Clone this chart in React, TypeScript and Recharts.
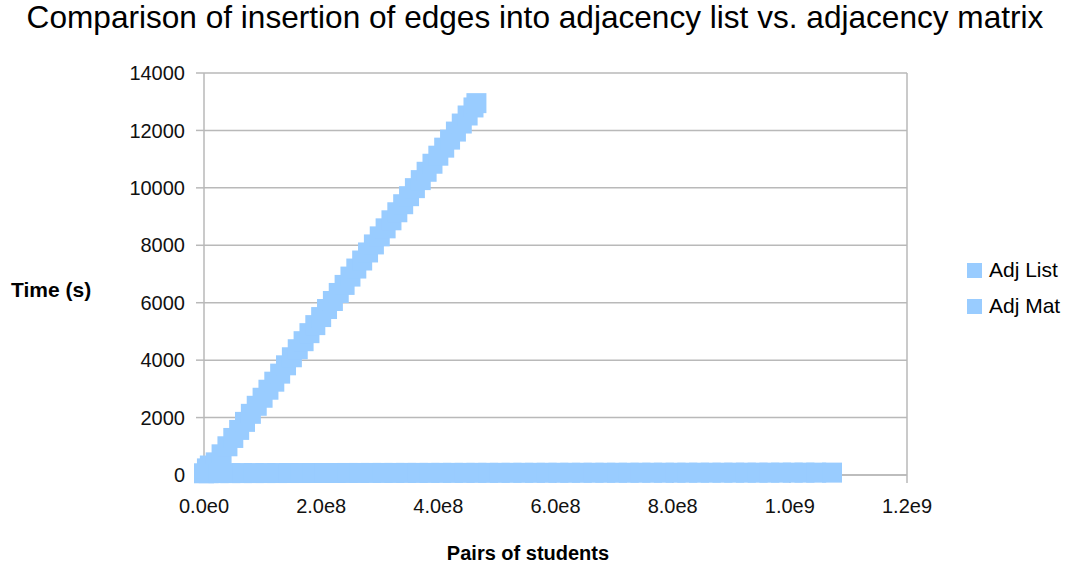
import React from 'react';
import {
  ScatterChart,
  Scatter,
  XAxis,
  YAxis,
  CartesianGrid,
  Legend,
  ReferenceLine,
} from 'recharts';

// pairs of students are in millions, times in seconds
const adjListPairs = [
  0, 5, 10, 20, 30, 40, 50, 60, 70, 80, 90, 100, 110, 120, 130, 140, 150, 160, 170, 180, 190,
  200, 210, 220, 230, 240, 250, 260, 270, 280, 290, 300, 310, 320, 330, 340, 350, 360, 370, 380,
  390, 400, 410, 420, 430, 440, 450, 460, 465,
];
const adjListTimes = [
  60, 230, 330, 440, 720, 1000, 1290, 1570, 1850, 2130, 2410, 2690, 2970, 3250, 3530, 3820, 4100,
  4380, 4660, 4940, 5220, 5500, 5780, 6060, 6340, 6620, 6910, 7190, 7470, 7750, 8030, 8310, 8590,
  8870, 9150, 9430, 9710, 9990, 10270, 10560, 10840, 11120, 11400, 11680, 11960, 12240, 12520,
  12800, 12950,
];

const adjMatPairs = [
  8, 25, 45, 65, 85, 105, 125, 145, 165, 185, 205, 225, 245, 265, 285, 305, 325, 345, 365, 385,
  405, 425, 445, 465, 485, 505, 525, 545, 565, 585, 605, 625, 645, 665, 685, 705, 725, 745, 765,
  785, 805, 825, 845, 865, 885, 905, 925, 945, 965, 985, 1005, 1025, 1045, 1072,
];
const adjMatTimes = [
  65, 66, 66, 67, 67, 68, 68, 69, 69, 70, 70, 70, 71, 71, 72, 72, 72, 73, 73, 73, 74, 74, 74, 75,
  75, 75, 76, 76, 76, 77, 77, 77, 77, 78, 78, 78, 78, 79, 79, 79, 79, 80, 80, 80, 80, 81, 81, 81,
  81, 82, 82, 82, 82, 83,
];

const seriesNames = ['Adj List', 'Adj Mat'];
const xTicks = [0, 2e8, 4e8, 6e8, 8e8, 1e9, 1.2e9];
const yTicks = [0, 2000, 4000, 6000, 8000, 10000, 12000, 14000];

const MARKER = '#99ccff';
const GRID = '#b9b9b9';
const FONT = '"Liberation Sans", Arial, sans-serif';
const SIDE = 20;

const adjListData = adjListPairs.map((p, i) => ({ pairs: p * 1e6, time: adjListTimes[i] }));
const adjMatData = adjMatPairs.map((p, i) => ({ pairs: p * 1e6, time: adjMatTimes[i] }));

const formatX = (v: number) => v.toExponential(1).replace('e+', 'e');

// square marker, a bit bigger than recharts' default symbol
const SquareMarker = (props: any) => (
  <rect x={props.cx - SIDE / 2} y={props.cy - SIDE / 2} width={SIDE} height={SIDE} fill={MARKER} />
);

const renderLegend = () => (
  <div style={{ fontFamily: FONT, fontSize: 21, color: '#000' }}>
    {seriesNames.map((name) => (
      <div key={name} style={{ display: 'flex', alignItems: 'center', height: 36 }}>
        <span
          style={{ display: 'inline-block', width: 15, height: 15, background: MARKER, marginRight: 7 }}
        />
        {name}
      </div>
    ))}
  </div>
);

export default function App() {
  return (
    <div style={{ position: 'absolute', left: 0, top: 0, width: 1081, height: 567, background: '#fff' }}>
      <div
        style={{
          position: 'absolute',
          left: 0,
          top: 2,
          width: 1070,
          textAlign: 'center',
          fontFamily: FONT,
          fontSize: 31.6,
          lineHeight: '31px',
          color: '#000',
          whiteSpace: 'nowrap',
        }}
      >
        Comparison of insertion of edges into adjacency list vs. adjacency matrix
      </div>
      <ScatterChart width={1081} height={567} margin={{ top: 73, right: 174, bottom: 62, left: 0 }}>
        <CartesianGrid vertical={false} stroke={GRID} strokeWidth={1.5} />
        <XAxis
          type="number"
          dataKey="pairs"
          domain={[0, 1.2e9]}
          ticks={xTicks}
          tickFormatter={formatX}
          height={30}
          stroke={GRID}
          strokeWidth={1.5}
          tickSize={8}
          tickMargin={16}
          tick={{ fill: '#111', fontSize: 20, fontFamily: FONT }}
          label={{
            content: () => (
              <text x={528} y={560} textAnchor="middle" fontFamily={FONT} fontSize={20} fontWeight="bold" fill="#000">
                Pairs of students
              </text>
            ),
          }}
        />
        <YAxis
          type="number"
          dataKey="time"
          domain={[0, 14000]}
          ticks={yTicks}
          width={204}
          stroke={GRID}
          strokeWidth={1.5}
          tickSize={8}
          tickMargin={11}
          tick={{ fill: '#111', fontSize: 20, fontFamily: FONT }}
          label={{
            content: () => (
              <text x={11} y={297} textAnchor="start" fontFamily={FONT} fontSize={21} fontWeight="bold" fill="#000">
                Time (s)
              </text>
            ),
          }}
        />
        <ReferenceLine x={1.2e9} stroke={GRID} strokeWidth={1.5} />
        <Legend
          layout="vertical"
          align="center"
          verticalAlign="middle"
          content={renderLegend}
          wrapperStyle={{ left: 967, top: 252, width: 114 }}
        />
        <Scatter name={seriesNames[0]} data={adjListData} fill={MARKER} shape={SquareMarker} isAnimationActive={false} />
        <Scatter name={seriesNames[1]} data={adjMatData} fill={MARKER} shape={SquareMarker} isAnimationActive={false} />
      </ScatterChart>
    </div>
  );
}
